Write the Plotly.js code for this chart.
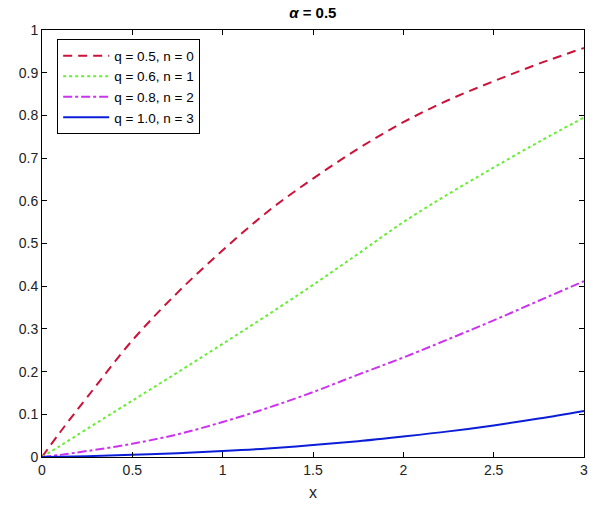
<!DOCTYPE html>
<html>
<head>
<meta charset="utf-8">
<script src="https://cdn.plot.ly/plotly-3.0.1.min.js"></script>
<style>html,body{margin:0;padding:0;background:#fff}#chart{width:597px;height:515px}</style>
</head>
<body>
<div id="chart"></div>
<script>
const xValues = [0, 0.1, 0.25, 0.5, 0.75, 1, 1.25, 1.5, 1.75, 2, 2.25, 2.5, 2.75, 3];
const seriesNames = ['q = 0.5, n = 0', 'q = 0.6, n = 1', 'q = 0.8, n = 2', 'q = 1.0, n = 3'];
const redValues     = [0, 0.058, 0.14, 0.273, 0.385, 0.484, 0.575, 0.652, 0.722, 0.784, 0.836, 0.88, 0.921, 0.958];
const greenValues   = [0, 0.026, 0.066, 0.132, 0.198, 0.265, 0.333, 0.403, 0.476, 0.55, 0.616, 0.678, 0.738, 0.795];
const magentaValues = [0, 0.005, 0.014, 0.031, 0.053, 0.082, 0.115, 0.152, 0.193, 0.233, 0.276, 0.32, 0.366, 0.412];
const blueValues    = [0, 0.0006, 0.002, 0.005, 0.009, 0.014, 0.02, 0.028, 0.037, 0.048, 0.06, 0.074, 0.09, 0.108];
const xTicks = [0, 0.5, 1, 1.5, 2, 2.5, 3];
const yTicks = [0, 0.1, 0.2, 0.3, 0.4, 0.5, 0.6, 0.7, 0.8, 0.9, 1];

const styles = [
  {color: '#CC1238', dash: '9px,6px', width: 2},
  {color: '#66EE33', dash: 'dot', width: 2},
  {color: '#CC33EE', dash: 'dashdot', width: 2},
  {color: '#0A1ED8', dash: 'solid', width: 2}
];
const allY = [redValues, greenValues, magentaValues, blueValues];
const traces = allY.map((ys, i) => ({
  x: xValues, y: ys, name: seriesNames[i], type: 'scatter', mode: 'lines',
  line: {color: styles[i].color, dash: styles[i].dash, width: styles[i].width, shape: 'spline', smoothing: 1}
}));

const font = 'Liberation Sans, Arial, sans-serif';
const axisCommon = {
  showline: true, linecolor: '#000', linewidth: 1, mirror: 'ticks',
  ticks: 'inside', ticklen: 5, tickcolor: '#000', showgrid: false, zeroline: false,
  tickfont: {family: font, size: 14, color: '#222'}
};
const layout = {
  width: 597, height: 515,
  margin: {l: 42, r: 13, t: 30, b: 58},
  paper_bgcolor: '#fff', plot_bgcolor: '#fff',
  title: {text: '<b><i>α</i> = 0.5</b>', x: 0.524, xanchor: 'center', y: 0.985, yanchor: 'top',
          font: {family: font, size: 15, color: '#000'}},
  xaxis: Object.assign({}, axisCommon, {range: [0, 3], tickvals: xTicks, ticktext: xTicks.map(String),
    title: {text: 'x', standoff: 10, font: {family: font, size: 16, color: '#222'}}}),
  yaxis: Object.assign({}, axisCommon, {range: [0, 1], tickvals: yTicks, ticktext: yTicks.map(String)}),
  showlegend: true,
  legend: {x: 0.028, y: 0.978, xanchor: 'left', yanchor: 'top', bgcolor: '#fff', bordercolor: '#000', borderwidth: 1,
    font: {family: font, size: 13.5, color: '#000'}, tracegroupgap: 0, itemwidth: 46}
};
Plotly.newPlot('chart', traces, layout, {displayModeBar: false, staticPlot: true});
</script>
</body>
</html>
